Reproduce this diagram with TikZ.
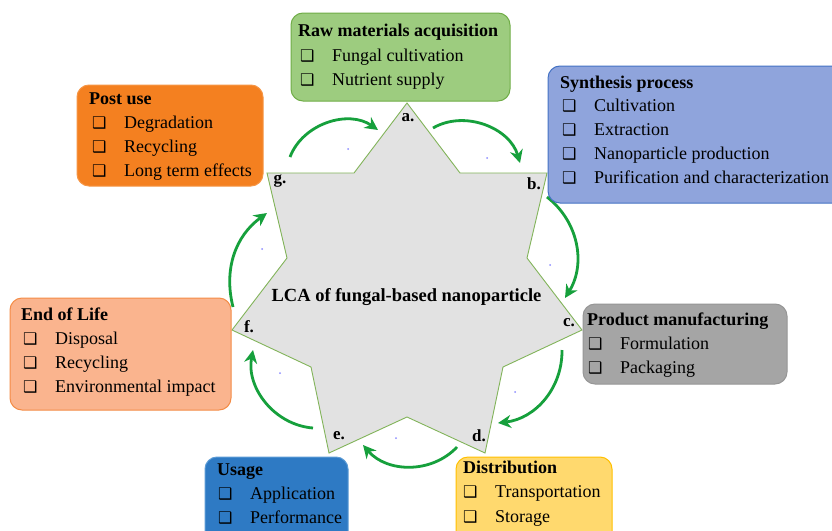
\documentclass[tikz,border=0pt]{standalone}
\usepackage{fontspec}
\setmainfont{Liberation Serif}
\newfontfamily\symfont{DejaVu Sans}
\usetikzlibrary{arrows.meta}
\definecolor{rawfill}{RGB}{157,204,127}
\definecolor{rawdraw}{RGB}{112,173,71}
\definecolor{synfill}{RGB}{143,164,220}
\definecolor{syndraw}{RGB}{68,114,196}
\definecolor{postfill}{RGB}{244,128,32}
\definecolor{postdraw}{RGB}{246,150,70}
\definecolor{eolfill}{RGB}{250,180,142}
\definecolor{eoldraw}{RGB}{244,140,70}
\definecolor{prodfill}{RGB}{165,165,165}
\definecolor{proddraw}{RGB}{150,150,150}
\definecolor{usefill}{RGB}{46,122,196}
\definecolor{usedraw}{RGB}{91,155,213}
\definecolor{distfill}{RGB}{255,217,110}
\definecolor{distdraw}{RGB}{255,192,0}
\definecolor{starfill}{RGB}{226,226,226}
\definecolor{stardraw}{RGB}{130,180,90}
\definecolor{arrowgreen}{RGB}{22,160,60}
\definecolor{dotblue}{RGB}{140,140,255}
\newcommand{\chk}{\makebox[32pt][l]{\symfont\fontsize{16}{16}\selectfont ❑}}
\tikzset{
  stagebox/.style={rounded corners=12pt, line width=1pt, minimum width=#1, inner sep=0pt},
  ttl/.style={anchor=base west, inner sep=0pt, font=\bfseries\fontsize{18}{21}\selectfont},
  itm/.style={anchor=base west, inner sep=0pt, font=\fontsize{18}{21}\selectfont},
  lbl/.style={inner sep=0pt, font=\bfseries\fontsize{17}{20}\selectfont},
  cyc/.style={arrowgreen, line width=2.8pt, -{Stealth[length=13pt,width=13pt]}},
  dotst/.style={fill=dotblue, draw=none}
}
\begin{document}
\begin{tikzpicture}[x=1pt,y=-1pt]
\useasboundingbox (0,0) rectangle (832,530);
\clip (0,0) rectangle (832,530);
\fill[white] (0,0) rectangle (832,530);

% star vertices
\coordinate (A) at (407,103);
\coordinate (AB) at (460,173);
\coordinate (B) at (547,173);
\coordinate (BC) at (527,258);
\coordinate (C) at (582,330);
\coordinate (CD) at (503,367);
\coordinate (D) at (485,453);
\coordinate (DE) at (407,417);
\coordinate (E) at (329,453);
\coordinate (EF) at (311,367);
\coordinate (F) at (232,330);
\coordinate (FG) at (287,258);
\coordinate (G) at (267,173);
\coordinate (GA) at (354,173);
\draw[fill=starfill, draw=stardraw, line width=0.9pt, line join=miter]
  (A) -- (AB) -- (B) -- (BC) -- (C) -- (CD) -- (D) -- (DE) -- (E) -- (EF) -- (F) -- (FG) -- (G) -- (GA) -- cycle;

\node[lbl] (la) at (408,118) {a.};
\node[lbl] (lb) at (534,184) {b.};
\node[lbl] (lc) at (569,323) {c.};
\node[lbl] (ld) at (479,436) {d.};
\node[lbl] (le) at (339,436) {e.};
\node[lbl] (lf) at (249,327) {f.};
\node[lbl] (lg) at (280,181) {g.};
\node[inner sep=0pt, font=\bfseries\fontsize{18.5}{22}\selectfont] (center) at (406.5,297) {LCA of fungal-based nanoparticle};

% tiny dots
\foreach \p in {(348,149),(487,158),(550,265),(515,392),(396,438),(280,373),(262,249)}
  \fill[dotst] \p circle (1pt);

% cycle arrows
\coordinate (s1) at (290,157); \coordinate (e1) at (378,130);
\coordinate (s2) at (433,128); \coordinate (e2) at (520,163);
\coordinate (s3) at (547,197); \coordinate (e3) at (565,298);
\coordinate (s4) at (562,350); \coordinate (e4) at (498,423);
\coordinate (s5) at (457,447); \coordinate (e5) at (363,445);
\coordinate (s6) at (313,428); \coordinate (e6) at (253,350);
\coordinate (s7) at (233,307); \coordinate (e7) at (267,213);
\draw[cyc] (s1) to[bend left=52] (e1);
\draw[cyc] (s2) to[bend left=52] (e2);
\draw[cyc] (s3) to[bend left=42] (e3);
\draw[cyc] (s4) to[bend left=42] (e4);
\draw[cyc] (s5) to[bend left=48] (e5);
\draw[cyc] (s6) to[bend left=48] (e6);
\draw[cyc] (s7) to[bend left=34] (e7);

% Raw materials
\node[stagebox=219pt, minimum height=88pt, fill=rawfill, draw=rawdraw] (raw) at (400.5,57) {};
\node[ttl] (rawt) at (298,36) {Raw materials acquisition};
\node[itm] (raw1) at (300,61) {\chk Fungal cultivation};
\node[itm] (raw2) at (300,85) {\chk Nutrient supply};

% Synthesis
\node[stagebox=300pt, minimum height=137pt, fill=synfill, draw=syndraw] (syn) at (698,134.5) {};
\node[ttl] (synt) at (560,88) {Synthesis process};
\node[itm] (syn1) at (562,111) {\chk Cultivation};
\node[itm] (syn2) at (562,135) {\chk Extraction};
\node[itm] (syn3) at (562,159) {\chk Nanoparticle production};
\node[itm] (syn4) at (562,183) {\chk Purification and characterization};

% Post use
\node[stagebox=186pt, minimum height=101pt, fill=postfill, draw=postdraw] (post) at (170,135.5) {};
\node[ttl] (postt) at (89,104) {Post use};
\node[itm] (post1) at (92,128) {\chk Degradation};
\node[itm] (post2) at (92,152) {\chk Recycling};
\node[itm] (post3) at (92,176) {\chk Long term effects};

% End of Life
\node[stagebox=221pt, minimum height=112pt, fill=eolfill, draw=eoldraw] (eol) at (120.5,354) {};
\node[ttl] (eolt) at (21,320) {End of Life};
\node[itm] (eol1) at (23,344) {\chk Disposal};
\node[itm] (eol2) at (23,368) {\chk Recycling};
\node[itm] (eol3) at (23,392) {\chk Environmental impact};

% Product manufacturing
\node[stagebox=204pt, minimum height=80pt, fill=prodfill, draw=proddraw] (prod) at (685,344) {};
\node[ttl] (prodt) at (587,325) {Product manufacturing};
\node[itm] (prod1) at (588,349) {\chk Formulation};
\node[itm] (prod2) at (588,373) {\chk Packaging};

% Usage
\node[stagebox=143pt, minimum height=100pt, fill=usefill, draw=usedraw] (use) at (276.5,507) {};
\node[ttl] (uset) at (217,475) {Usage};
\node[itm] (use1) at (218,499) {\chk Application};
\node[itm] (use2) at (218,523) {\chk Performance};

% Distribution
\node[stagebox=156pt, minimum height=100pt, fill=distfill, draw=distdraw] (dist) at (534,507) {};
\node[ttl] (distt) at (463,473) {Distribution};
\node[itm] (dist1) at (463,497) {\chk Transportation};
\node[itm] (dist2) at (463,522) {\chk Storage};
\end{tikzpicture}
\end{document}
